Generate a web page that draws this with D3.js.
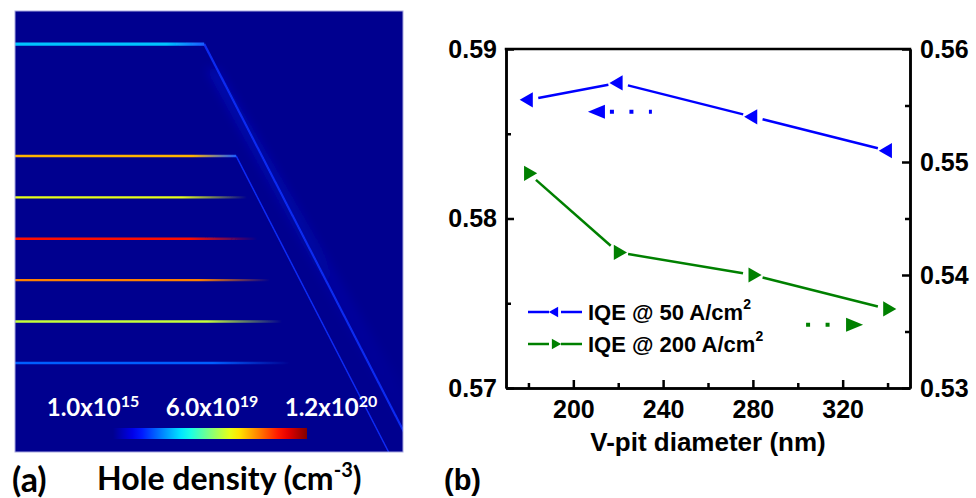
<!DOCTYPE html>
<html>
<head>
<meta charset="utf-8">
<script src="https://cdn.jsdelivr.net/npm/d3@7/dist/d3.min.js"></script>
<style>
body { margin: 0; background: #fff; }
svg { display: block; }
.axisB text { font-family: "Liberation Sans", Arial, sans-serif; font-weight: bold; font-size: 25px; fill: #000; }
.axisB path, .axisB line { stroke: #000; stroke-width: 2.5; }
.lbl { font-family: Lato, "Open Sans", sans-serif; font-weight: bold; fill: #fff; }
</style>
</head>
<body>
<div id="fig"></div>
<script>
//---------------- panel (a) data ----------------------
var wellDepth   = [8, 35, 45, 55, 65, 75, 85];              // nm below surface
var wellEnd     = [45.7, 53.4, 56, 58.5, 61.6, 64.5, 66.4];  // nm, lateral end of each well
var wellDensity = [0.38, 0.84, 0.72, 1.03, 0.9, 0.68, 0.26]; // peak hole density, x1e20 cm-3
var wellJoined  = [true, true, false, false, false, false, false];
var wallTopX    = [45.7, 53.4];   // V-pit sidewalls, start point (nm)
var wallTopY    = [8, 35];
var wallSlope   = 0.515;          // dx/dy of the semipolar sidewall
var cbValues    = [0, 0.6, 1.2];  // x1e20
var cbMant      = ["1.0x10", "6.0x10", "1.2x10"];
var cbExp       = ["15", "19", "20"];

//---------------- panel (b) data ----------------------
var diameter = [180, 220, 280, 340];
var iqe50    = [0.587, 0.588, 0.586, 0.584];
var iqe200   = [0.549, 0.542, 0.540, 0.537];
var xTicks      = [200, 240, 280, 320];
var xMinor      = [180, 220, 260, 300, 340];
var leftTicks   = [0.57, 0.58, 0.59];
var leftMinor   = [0.575, 0.585];
var rightTicks  = [0.53, 0.54, 0.55, 0.56];
var rightMinor  = [0.535, 0.545, 0.555];
var arrow50X  = [206.5, 235];   var arrow50Y  = 0.5863;
var arrow200X = [303.7, 329.1]; var arrow200Y = 0.5356;

var W = 976, H = 498;
var svg = d3.select("#fig").append("svg").attr("width", W).attr("height", H);
svg.append("rect").attr("width", W).attr("height", H).attr("fill", "#fff");
var defs = svg.append("defs");

// jet colour map
var jet = d3.scaleLinear()
	.domain([0, 0.125, 0.375, 0.625, 0.875, 1])
	.range(["#00008f", "#0000ff", "#00ffff", "#ffff00", "#ff0000", "#800000"])
	.clamp(true);
var dens = d3.scaleLinear().domain([0, 1.2]).range([0, 1]);

//---------------- panel (a) ----------------------
var aLeft = 15, aTop = 11, aRight = 403, aBottom = 452;
var ax = d3.scaleLinear().domain([0, 93.7]).range([aLeft, aRight]);
var ay = d3.scaleLinear().domain([0, 106.5]).range([aTop, aBottom]);

defs.append("clipPath").attr("id", "clipA")
	.append("rect").attr("x", aLeft).attr("y", aTop)
	.attr("width", aRight - aLeft).attr("height", aBottom - aTop);
// filters in user space so that flat lines are not dropped
["soft", "wide"].forEach(function(id, i) {
	defs.append("filter").attr("id", id)
		.attr("filterUnits", "userSpaceOnUse")
		.attr("x", 0).attr("y", 0).attr("width", 420).attr("height", 470)
		.append("feGaussianBlur").attr("stdDeviation", i == 0 ? 0.7 : 5);
});

var gA = svg.append("g").attr("clip-path", "url(#clipA)");
gA.append("rect").attr("x", aLeft).attr("y", aTop)
	.attr("width", aRight - aLeft).attr("height", aBottom - aTop)
	.attr("fill", jet(0));

// faint glow to the right of the outer sidewall
var yEnd = 106.5;
var bandPts = [
	[ax(wallTopX[0]) + 2, ay(wallTopY[0] + 6)],
	[ax(wallTopX[0] + wallSlope * (yEnd - wallTopY[0])) + 2, ay(yEnd)],
	[ax(wallTopX[0] + wallSlope * (yEnd - wallTopY[0])) + 26, ay(yEnd)],
	[ax(wallTopX[0]) + 14, ay(wallTopY[0] + 6)]
];
var bandGrad = defs.append("linearGradient").attr("id", "bandGrad")
	.attr("x1", "0").attr("x2", "1").attr("y1", "0").attr("y2", "0");
bandGrad.append("stop").attr("offset", "0").attr("stop-color", "#1020ff").attr("stop-opacity", 0.3);
bandGrad.append("stop").attr("offset", "1").attr("stop-color", "#1020ff").attr("stop-opacity", 0);
gA.append("path")
	.attr("d", d3.line()(bandPts) + "Z")
	.attr("fill", "url(#bandGrad)")
	.attr("filter", "url(#wide)");

// sidewall lines
gA.selectAll("line.wall")
	.data(wallTopX)
	.enter()
	.append("line")
	.attr("class", "wall")
	.attr("x1", function(d) { return ax(d); })
	.attr("y1", function(d, i) { return ay(wallTopY[i]); })
	.attr("x2", function(d, i) { return ax(d + wallSlope * (yEnd - wallTopY[i])); })
	.attr("y2", ay(yEnd))
	.attr("stroke", function(d, i) { return i == 0 ? "#0a2cf0" : "#0e2cf5"; })
	.attr("stroke-width", function(d, i) { return i == 0 ? 2.2 : 1.5; })
	.attr("filter", "url(#soft)");

// quantum wells
wellDepth.forEach(function(d, i) {
	var c = jet(dens(wellDensity[i]));
	var g = defs.append("linearGradient").attr("id", "well" + i)
		.attr("gradientUnits", "userSpaceOnUse")
		.attr("x1", aLeft).attr("x2", ax(wellEnd[i])).attr("y1", 0).attr("y2", 0);
	g.append("stop").attr("offset", 0).attr("stop-color", c);
	g.append("stop").attr("offset", wellJoined[i] ? 0.8 : 0.72).attr("stop-color", c);
	if (wellJoined[i]) {
		g.append("stop").attr("offset", 1).attr("stop-color", "#1a5cff");
	} else {
		g.append("stop").attr("offset", 1).attr("stop-color", c).attr("stop-opacity", 0);
	}
});
gA.selectAll("line.well")
	.data(wellDepth)
	.enter()
	.append("line")
	.attr("class", "well")
	.attr("x1", aLeft)
	.attr("x2", function(d, i) { return ax(wellEnd[i]); })
	.attr("y1", function(d) { return ay(d); })
	.attr("y2", function(d) { return ay(d); })
	.attr("stroke", function(d, i) { return "url(#well" + i + ")"; })
	.attr("stroke-width", function(d, i) { return i == 0 ? 3.2 : 2.4; })
	.attr("filter", "url(#soft)");

// colour bar
var cbX = d3.scaleLinear().domain([0, 1.2]).range([113, 307]);
var cbGrad = defs.append("linearGradient").attr("id", "cbGrad");
d3.range(0, 1.0001, 0.05).forEach(function(t) {
	cbGrad.append("stop").attr("offset", t).attr("stop-color", jet(t));
});
gA.append("rect")
	.attr("x", cbX(0)).attr("y", 428)
	.attr("width", cbX(1.2) - cbX(0)).attr("height", 11)
	.attr("fill", "url(#cbGrad)");

var cbLab = d3.scaleLinear().domain([0, 1.2]).range([93, 331]);
var cbText = svg.selectAll("text.cb")
	.data(cbValues)
	.enter()
	.append("text")
	.attr("class", "lbl cb")
	.attr("x", function(d) { return cbLab(d); })
	.attr("y", 416)
	.attr("text-anchor", "middle")
	.style("font-size", "24px");
cbText.append("tspan").text(function(d, i) { return cbMant[i]; });
cbText.append("tspan")
	.attr("dy", -9)
	.style("font-size", "16px")
	.text(function(d, i) { return cbExp[i]; });

// border of image
svg.append("rect").attr("x", aLeft).attr("y", aTop)
	.attr("width", aRight - aLeft).attr("height", aBottom - aTop)
	.attr("fill", "none").attr("stroke", "#a8a8e0").attr("stroke-width", 1);

svg.append("text")
	.attr("x", 12).attr("y", 492)
	.style("font-family", "Lato, 'Open Sans', sans-serif")
	.style("font-weight", "bold").style("font-size", "34px")
	.text("(a)");
var hd = svg.append("text")
	.attr("x", 97).attr("y", 490)
	.style("font-family", "Lato, 'Open Sans', sans-serif")
	.style("font-weight", "bold").style("font-size", "32px");
hd.append("tspan").text("Hole density (cm");
hd.append("tspan").attr("dy", -13).style("font-size", "20px").text("-3");
hd.append("tspan").attr("dy", 13).text(")");

//---------------- panel (b) ----------------------
var bL = 506, bR = 910, bT = 49, bB = 388;
var xScale = d3.scaleLinear().domain([170, 350]).range([bL, bR]);
var yLeft  = d3.scaleLinear().domain([0.57, 0.59]).range([bB, bT]);
var yRight = d3.scaleLinear().domain([0.53, 0.56]).range([bB, bT]);

var gB = svg.append("g");

gB.append("g").attr("class", "axisB")
	.attr("transform", "translate(0," + bB + ")")
	.call(d3.axisBottom(xScale).tickValues(xTicks).tickSize(-8).tickPadding(12).tickSizeOuter(0));
gB.append("g").attr("class", "axisB")
	.attr("transform", "translate(0," + bB + ")")
	.call(d3.axisBottom(xScale).tickValues(xMinor).tickFormat("").tickSize(-5).tickSizeOuter(0));

gB.append("g").attr("class", "axisB")
	.attr("transform", "translate(" + bL + ",0)")
	.call(d3.axisLeft(yLeft).tickValues(leftTicks).tickFormat(d3.format(".2f")).tickSize(-8).tickPadding(9).tickSizeOuter(0));
gB.append("g").attr("class", "axisB")
	.attr("transform", "translate(" + bL + ",0)")
	.call(d3.axisLeft(yLeft).tickValues(leftMinor).tickFormat("").tickSize(-5).tickSizeOuter(0));

gB.append("g").attr("class", "axisB")
	.attr("transform", "translate(" + bR + ",0)")
	.call(d3.axisRight(yRight).tickValues(rightTicks).tickFormat(d3.format(".2f")).tickSize(-8).tickPadding(10).tickSizeOuter(0));
gB.append("g").attr("class", "axisB")
	.attr("transform", "translate(" + bR + ",0)")
	.call(d3.axisRight(yRight).tickValues(rightMinor).tickFormat("").tickSize(-5).tickSizeOuter(0));

// top frame line
gB.append("line")
	.attr("x1", bL).attr("x2", bR).attr("y1", bT).attr("y2", bT)
	.attr("stroke", "#000").attr("stroke-width", 2.5).attr("stroke-linecap", "square");

// lines broken around markers, Origin style
var gap = 10;
function drawSeries(vals, yS, color, rot) {
	var pts = diameter.map(function(d, i) { return [xScale(d), yS(vals[i])]; });
	var segs = d3.pairs(pts).map(function(p) {
		var dx = p[1][0] - p[0][0], dy = p[1][1] - p[0][1];
		var len = Math.sqrt(dx * dx + dy * dy);
		var ux = dx / len, uy = dy / len;
		return [[p[0][0] + ux * gap, p[0][1] + uy * gap], [p[1][0] - ux * gap, p[1][1] - uy * gap]];
	});
	gB.selectAll(null)
		.data(segs)
		.enter()
		.append("line")
		.attr("x1", function(s) { return s[0][0]; })
		.attr("y1", function(s) { return s[0][1]; })
		.attr("x2", function(s) { return s[1][0]; })
		.attr("y2", function(s) { return s[1][1]; })
		.attr("stroke", color)
		.attr("stroke-width", 2.5);
	gB.selectAll(null)
		.data(pts)
		.enter()
		.append("path")
		.attr("d", d3.symbol().type(d3.symbolTriangle).size(100))
		.attr("transform", function(p) { return "translate(" + p[0] + "," + p[1] + ") rotate(" + rot + ")"; })
		.attr("fill", color);
}
drawSeries(iqe50, yLeft, "#0000ff", -90);
drawSeries(iqe200, yRight, "#008000", 90);

// axis-pointing arrows
function drawArrow(xs, yPx, color, dir) {
	var tip = dir < 0 ? xScale(xs[0]) : xScale(xs[1]);
	var tail = dir < 0 ? xScale(xs[1]) : xScale(xs[0]);
	var base = tip - dir * 17;
	gB.append("path")
		.attr("d", "M" + tip + "," + yPx + "L" + base + "," + (yPx - 7) + "L" + base + "," + (yPx + 7) + "Z")
		.attr("fill", color);
	var a = dir < 0 ? base + 5 : tail;
	var b = dir < 0 ? tail : base - 13;
	gB.append("line")
		.attr("x1", a).attr("x2", b).attr("y1", yPx).attr("y2", yPx)
		.attr("stroke", color).attr("stroke-width", 4)
		.attr("stroke-dasharray", "4,15.5");
}
drawArrow(arrow50X, yLeft(arrow50Y), "#0000ff", -1);
drawArrow(arrow200X, yRight(arrow200Y), "#008000", 1);

// legend
var legNames = ["IQE @ 50 A/cm", "IQE @ 200 A/cm"];
var legColors = ["#0000ff", "#008000"];
var legRot = [-90, 90];
var legY = [312, 344];
legNames.forEach(function(n, i) {
	var y = legY[i];
	gB.append("line").attr("x1", 528).attr("x2", 549).attr("y1", y).attr("y2", y)
		.attr("stroke", legColors[i]).attr("stroke-width", 2.5);
	gB.append("line").attr("x1", 561).attr("x2", 582).attr("y1", y).attr("y2", y)
		.attr("stroke", legColors[i]).attr("stroke-width", 2.5);
	gB.append("path")
		.attr("d", d3.symbol().type(d3.symbolTriangle).size(50))
		.attr("transform", "translate(555," + y + ") rotate(" + legRot[i] + ")")
		.attr("fill", legColors[i]);
	var t = gB.append("text")
		.attr("x", 588).attr("y", y + 8)
		.style("font-family", "'Liberation Sans', Arial, sans-serif")
		.style("font-weight", "bold").style("font-size", "22px");
	t.append("tspan").text(n);
	t.append("tspan").attr("dy", -11).style("font-size", "14px").text("2");
});

gB.append("text")
	.attr("x", (bL + bR) / 2).attr("y", 451)
	.attr("text-anchor", "middle")
	.style("font-family", "'Liberation Sans', Arial, sans-serif")
	.style("font-weight", "bold").style("font-size", "26px")
	.text("V-pit diameter (nm)");

gB.append("text")
	.attr("x", 444).attr("y", 490)
	.style("font-family", "'Liberation Sans', Arial, sans-serif")
	.style("font-weight", "bold").style("font-size", "29px")
	.text("(b)");
</script>
</body>
</html>
